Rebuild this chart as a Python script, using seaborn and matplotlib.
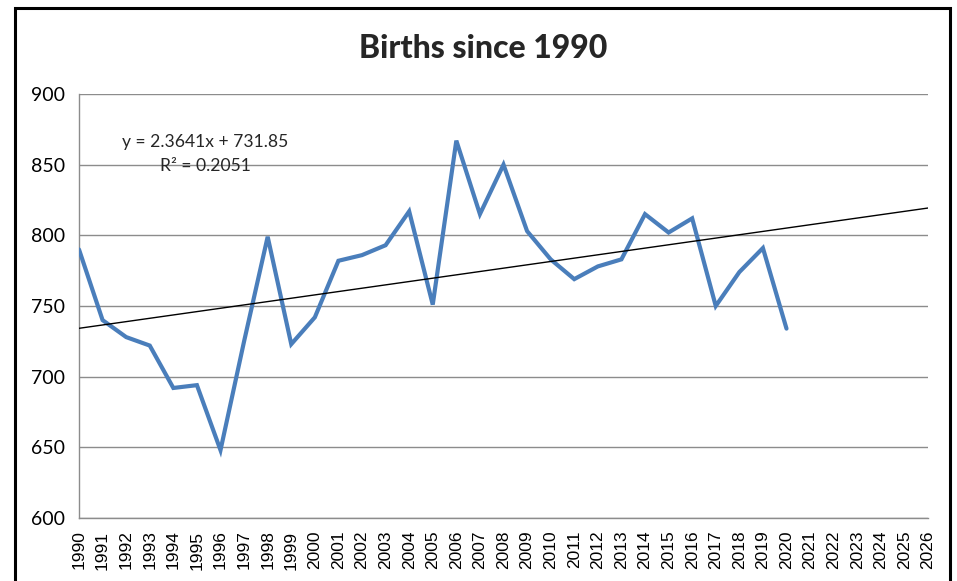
import matplotlib
matplotlib.use("Agg")
import matplotlib.pyplot as plt
import seaborn as sns
import pandas as pd
import numpy as np
from matplotlib.patches import Rectangle

years = list(range(1990, 2021))
births = [790, 740, 728, 722, 692, 694, 648, 725, 799, 723, 742, 782, 786, 793,
          817, 751, 867, 815, 850, 803, 783, 769, 778, 783, 815, 802, 812, 750,
          774, 791, 734]
tick_years = list(range(1990, 2027))
y_ticks = [600, 650, 700, 750, 800, 850, 900]
trend_slope = 2.3641
trend_intercept = 731.85
title = "Births since 1990"
eq_text = "y = 2.3641x + 731.85"
r2_text = "R² = 0.2051"

sns.set_style("white")
plt.rcParams['font.family'] = ['Lato', 'DejaVu Sans']

df = pd.DataFrame({"year": years, "births": births})

fig = plt.figure(figsize=(9.57, 5.81), dpi=100)
ax = fig.add_axes([79/957, 1-518/581, (928-79)/957, (518-94)/581])

grid_c = "#8c8c8c"
for v in y_ticks:
    ax.axhline(v, color=grid_c, lw=1.0, zorder=1)

sns.lineplot(data=df, x="year", y="births", ax=ax, color="#4a7ebb", lw=3.0,
             zorder=3, solid_joinstyle="miter")

# trend line from Excel equation (x = index starting at 1)
tx = np.array([tick_years[0], tick_years[-1]])
ty = trend_slope * (tx - tick_years[0] + 1) + trend_intercept
ax.plot(tx, ty, color="black", lw=1.0, zorder=4)

ax.set_xlim(tick_years[0], tick_years[-1])
ax.set_ylim(y_ticks[0], y_ticks[-1])
ax.set_xticks(tick_years)
ax.set_xticklabels([str(y) for y in tick_years], rotation=90,
                   family=['Liberation Sans', 'DejaVu Sans'], fontsize=12.5)
ax.set_yticks(y_ticks)
ax.set_yticklabels([str(v) for v in y_ticks], fontsize=14)
ax.set_xlabel("")
ax.set_ylabel("")
for s in ["top", "right"]:
    ax.spines[s].set_visible(False)
for s in ["left", "bottom"]:
    ax.spines[s].set_color(grid_c)
    ax.spines[s].set_linewidth(1.0)
ax.tick_params(axis="both", which="both", direction="out", length=6,
               width=1.0, color=grid_c, labelcolor="black", pad=3)
ax.tick_params(axis="y", pad=4)

ax.text(205/957, 1-142/581, eq_text, transform=fig.transFigure, ha="center",
        va="center", fontsize=12.6)
ax.text(205/957, 1-166/581, r2_text, transform=fig.transFigure, ha="center",
        va="center", fontsize=12.6)

fig.text(483/957, 1-48/581, title, ha="center", va="center", fontsize=23,
         fontweight="black")

fig.patches.append(Rectangle((15/957, -0.05), (950-15)/957, 1.05 - 8/581,
                             transform=fig.transFigure, fill=False,
                             edgecolor="black", lw=2.2))

fig.savefig("out.png", dpi=100)
